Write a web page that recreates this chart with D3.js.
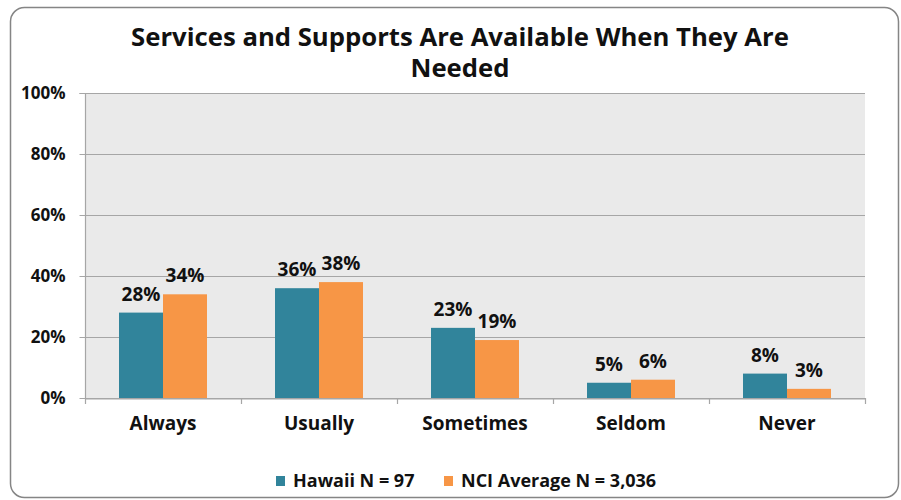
<!DOCTYPE html>
<html><head><meta charset="utf-8">
<script src="https://cdn.jsdelivr.net/npm/d3@7"></script>
<style>body{margin:0;background:#fff;} svg{display:block;} text{font-family:"Open Sans",sans-serif;font-weight:bold;fill:#111;}</style>
</head><body><svg id="c" width="901" height="500"></svg>
<script>
const categories = ["Always","Usually","Sometimes","Seldom","Never"];
const hawaii = [28,36,23,5,8];
const nci = [34,38,19,6,3];
const seriesNames = ["Hawaii N = 97","NCI Average N = 3,036"];
const yTicks = [0,20,40,60,80,100];
const colors = ["#31849B","#F79646"];

const svg = d3.select("#c");
svg.append("rect").attr("x",10.5).attr("y",7.5).attr("width",888).attr("height",490)
  .attr("rx",14).attr("fill","#fff").attr("stroke","#858585").attr("stroke-width",1.5);

const title = svg.append("text").attr("text-anchor","middle").attr("font-size",25.7);
title.append("tspan").attr("x",460).attr("y",46).text("Services and Supports Are Available When They Are");
title.append("tspan").attr("x",460).attr("y",77).text("Needed");

const pL=85, pR=865, pT=93, pB=398;
const x = d3.scaleBand().domain(categories).range([pL,pR]).paddingInner(0.436).paddingOuter(0.218);
const y = d3.scaleLinear().domain([0,100]).range([pB,pT]);
const xs = d3.scaleBand().domain([0,1]).range([0,x.bandwidth()]);

svg.append("rect").attr("x",pL).attr("y",pT).attr("width",pR-pL).attr("height",pB-pT).attr("fill","#EAEAEA");
svg.append("g").selectAll("line").data(yTicks).join("line")
  .attr("x1",pL).attr("x2",pR).attr("y1",d=>y(d)+0.5).attr("y2",d=>y(d)+0.5)
  .attr("stroke","#a6a6a6").attr("stroke-width",1.2);

const yAxis = svg.append("g").attr("transform",`translate(${pL+0.5},0)`)
  .call(d3.axisLeft(y).tickValues(yTicks).tickFormat(d=>d+"%").tickSize(6).tickPadding(14));
yAxis.select(".domain").attr("stroke","#a6a6a6").attr("stroke-width",1.2).attr("d",`M-6,${pT+0.5}H0V${pB+0.5}`);
yAxis.selectAll(".tick line").attr("stroke","#a6a6a6");
yAxis.selectAll("text").attr("font-size",17).attr("font-family","Open Sans").attr("font-weight","bold").attr("fill","#111");

const xAxis = svg.append("g").attr("transform",`translate(0,${pB+0.5})`)
  .call(d3.axisBottom(x).tickSize(0).tickPadding(18));
xAxis.select(".domain").attr("stroke","#a6a6a6").attr("stroke-width",1.2);
xAxis.selectAll("text").attr("font-size",19).attr("font-family","Open Sans").attr("font-weight","bold").attr("fill","#111");
const sepData = d3.range(categories.length+1).map(i=>pL+i*(pR-pL)/categories.length);
svg.append("g").selectAll("line").data(sepData).join("line")
  .attr("x1",d=>d+0.5).attr("x2",d=>d+0.5).attr("y1",pB).attr("y2",pB+6)
  .attr("stroke","#a6a6a6").attr("stroke-width",1.2);

const series=[hawaii,nci];
series.forEach((vals,si)=>{
  const g=svg.append("g");
  g.selectAll("rect").data(vals).join("rect")
    .attr("x",(d,i)=>x(categories[i])+xs(si)).attr("width",xs.bandwidth())
    .attr("y",d=>y(d)).attr("height",d=>pB-y(d)).attr("fill",colors[si]);
  g.selectAll("text").data(vals).join("text")
    .attr("x",(d,i)=>x(categories[i])+xs(si)+xs.bandwidth()/2).attr("y",d=>y(d)-12)
    .attr("text-anchor","middle").attr("font-size",19).text(d=>d+"%");
});

const leg = svg.append("g");
const legX=[276,444];
seriesNames.forEach((n,i)=>{
  leg.append("rect").attr("x",legX[i]).attr("y",476).attr("width",9).attr("height",10).attr("fill",colors[i]);
  leg.append("text").attr("x",legX[i]+17).attr("y",487).attr("font-size",18).text(n);
});
</script></body></html>
